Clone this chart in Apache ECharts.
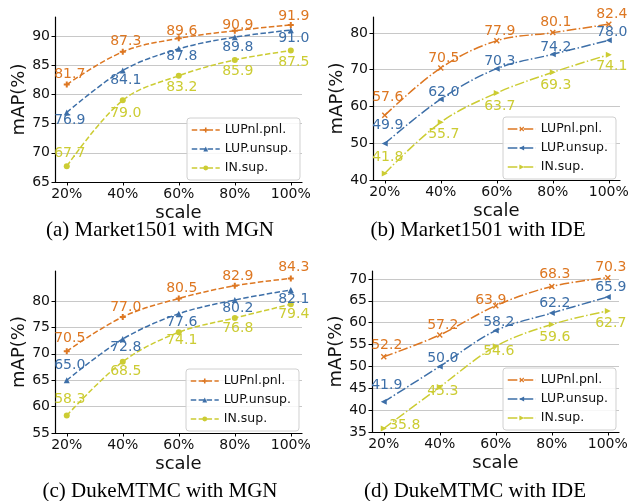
<!DOCTYPE html>
<html>
<head>
<meta charset="utf-8">
<script src="https://cdn.jsdelivr.net/npm/echarts@6/dist/echarts.min.js"></script>
<style>
  html, body { margin: 0; padding: 0; background: #fff; }
  #chart { width: 632px; height: 501px; }
</style>
</head>
<body>
<div id="chart"></div>
<script>
// Training-data scale (x) and mAP (%) for three pre-training settings
const scales = [20, 40, 60, 80, 100];
const methodNames = ['LUPnl.pnl.', 'LUP.unsup.', 'IN.sup.'];

// (a) Market1501 with MGN
const marketMgnPnl   = [81.7, 87.3, 89.6, 90.9, 91.9];
const marketMgnUnsup = [76.9, 84.1, 87.8, 89.8, 91.0];
const marketMgnSup   = [67.7, 79.0, 83.2, 85.9, 87.5];
// (b) Market1501 with IDE
const marketIdePnl   = [57.6, 70.5, 77.9, 80.1, 82.4];
const marketIdeUnsup = [49.9, 62.0, 70.3, 74.2, 78.0];
const marketIdeSup   = [41.8, 55.7, 63.7, 69.3, 74.1];
// (c) DukeMTMC with MGN
const dukeMgnPnl     = [70.5, 77.0, 80.5, 82.9, 84.3];
const dukeMgnUnsup   = [65.0, 72.8, 77.6, 80.2, 82.1];
const dukeMgnSup     = [58.3, 68.5, 74.1, 76.8, 79.4];
// (d) DukeMTMC with IDE
const dukeIdePnl     = [52.2, 57.2, 63.9, 68.3, 70.3];
const dukeIdeUnsup   = [41.9, 50.0, 58.2, 62.2, 65.9];
const dukeIdeSup     = [35.8, 45.3, 54.6, 59.6, 62.7];

// y tick values per panel
const yTicksA = [65, 70, 75, 80, 85, 90];
const yTicksB = [40, 50, 60, 70, 80];
const yTicksC = [55, 60, 65, 70, 75, 80];
const yTicksD = [35, 40, 45, 50, 55, 60, 65, 70];

const captions = [
  '(a) Market1501 with MGN',
  '(b) Market1501 with IDE',
  '(c) DukeMTMC with MGN',
  '(d) DukeMTMC with IDE'
];

const panelValues = [
  [marketMgnPnl, marketMgnUnsup, marketMgnSup],
  [marketIdePnl, marketIdeUnsup, marketIdeSup],
  [dukeMgnPnl, dukeMgnUnsup, dukeMgnSup],
  [dukeIdePnl, dukeIdeUnsup, dukeIdeSup]
];
const panelTicks = [yTicksA, yTicksB, yTicksC, yTicksD];

// ---- layout & style ----
const COLORS = ['#dd7722', '#3d6fa8', '#cccc33'];
const FONT = 'DejaVu Sans';
const panels = [
  { grid: { left: 55,  top: 17,  width: 247, height: 165 }, yMin: 65, yMax: 93.25, legend: { left: 187, top: 118 }, caption: [160, 230], kind: 'mgn' },
  { grid: { left: 373, top: 17,  width: 247, height: 163 }, yMin: 40, yMax: 84.35, legend: { left: 503, top: 117 }, caption: [478, 230], kind: 'ide' },
  { grid: { left: 55,  top: 271, width: 247, height: 162 }, yMin: 55, yMax: 85.7,  legend: { left: 186, top: 369 }, caption: [160, 491], kind: 'mgn' },
  { grid: { left: 372, top: 271, width: 247, height: 161 }, yMin: 35, yMax: 71.83, legend: { left: 503, top: 368 }, caption: [475, 491], kind: 'ide' }
];
// label placement: offset of each value label's centre from its point [dx, dy]
const labelDy = [
  [[-10, -10, -7, -5, -9], [8, 10, 8, 10, 8], [-13, 13, 12, 11, 12]],
  [[-18, -10, -9, -10, -10], [-18, -7, -7, -7, -8], [-16, 12, 13, 13, 12]],
  [[-13, -10, -10, -9, -11], [-15, 8, 9, 8, 9], [-16, 10, 8, 10, 10]],
  [[-11, -10, -5, -12, -10], [-16, -8, -8, -10, -10], [-3, 4, 5, 13, 12]]
];
const labelDx = [
  [[3, 3, 3, 3, 3], [3, 3, 3, 3, 3], [3, 3, 3, 3, 3]],
  [[3, 3, 3, 3, 3], [3, 3, 3, 3, 3], [3, 3, 3, 3, 3]],
  [[3, 3, 3, 3, 3], [3, 3, 3, 3, 3], [3, 3, 3, 3, 3]],
  [[3, 3, -5, 3, 3], [3, 3, 3, 3, 3], [21, 3, 3, 3, 3]]
];

const PLUS = 'path://M2,0H4V2H6V4H4V6H2V4H0V2H2Z';
const CROSS = 'path://M0,1L1,0L3,2L5,0L6,1L4,3L6,5L5,6L3,4L1,6L0,5L2,3Z';
const markerStyles = {
  mgn: [
    { symbol: PLUS, symbolSize: 6, rotate: 0 },
    { symbol: 'triangle', symbolSize: 6, rotate: 0 },
    { symbol: 'circle', symbolSize: 6, rotate: 0 }
  ],
  ide: [
    { symbol: CROSS, symbolSize: 6, rotate: 0 },
    { symbol: 'triangle', symbolSize: 6, rotate: 90 },
    { symbol: 'triangle', symbolSize: 6, rotate: -90 }
  ]
};
const dashes = { mgn: [5.5, 2.4], ide: [9.6, 2.4, 1.5, 2.4] };

const grids = [], xAxes = [], yAxes = [], series = [], legends = [], graphics = [];

panels.forEach((p, pi) => {
  grids.push(Object.assign({ containLabel: false }, p.grid));
  xAxes.push({
    type: 'value', gridIndex: pi, min: 15.8, max: 104,
    name: 'scale', nameLocation: 'middle', nameGap: 22,
    nameTextStyle: { fontFamily: FONT, fontSize: 18, color: '#111' },
    axisLine: { show: true, onZero: false, lineStyle: { color: '#000', width: 1.2 } },
    axisTick: { show: true, length: 3.5, customValues: scales, lineStyle: { color: '#000', width: 1 } },
    axisLabel: { customValues: scales, formatter: '{value}%', margin: 5, fontFamily: FONT, fontSize: 14, color: '#111' },
    splitLine: { show: false }
  });
  yAxes.push({
    type: 'value', gridIndex: pi, min: p.yMin, max: p.yMax,
    name: 'mAP(%)', nameLocation: 'middle', nameGap: 25, nameRotate: 90,
    nameTextStyle: { fontFamily: FONT, fontSize: 18, color: '#111' },
    axisLine: { show: true, onZero: false, lineStyle: { color: '#000', width: 1.2 } },
    axisTick: { show: true, length: 3.5, customValues: panelTicks[pi], lineStyle: { color: '#000', width: 1 } },
    axisLabel: { customValues: panelTicks[pi], margin: 5, fontFamily: FONT, fontSize: 14, color: '#111' },
    splitLine: { show: true, lineStyle: { color: '#c8c8c8', width: 1 } }
  });

  const names = [];
  panelValues[pi].forEach((vals, si) => {
    const m = markerStyles[p.kind][si];
    const name = 'p' + pi + '|' + methodNames[si];
    names.push({ name: name, lineStyle: { type: dashes[p.kind], width: 1.5, color: COLORS[si] } });
    series.push({
      type: 'line', name: name, xAxisIndex: pi, yAxisIndex: pi,
      smooth: 0.35,
      symbol: m.symbol, symbolSize: m.symbolSize, symbolRotate: m.rotate,
      color: COLORS[si],
      itemStyle: { color: COLORS[si] },
      lineStyle: { color: COLORS[si], width: 1.5, type: dashes[p.kind] },
      label: {
        show: true, position: 'inside', color: COLORS[si],
        fontFamily: FONT, fontSize: 14,
        formatter: (prm) => prm.value[1].toFixed(1)
      },
      emphasis: { disabled: true },
      data: vals.map((v, i) => ({
        value: [scales[i], v],
        label: { offset: [labelDx[pi][si][i], labelDy[pi][si][i]] }
      }))
    });
  });

  legends.push({
    data: names, orient: 'vertical', left: p.legend.left, top: p.legend.top,
    formatter: (n) => n.split('|')[1],
    backgroundColor: 'rgba(255,255,255,0.85)', borderColor: '#d0d0d0', borderWidth: 1, borderRadius: 3,
    padding: [5, 8, 5, 4], itemWidth: 28, itemHeight: 6, itemGap: 5,
    lineStyle: { type: dashes[p.kind], width: 1.5 },
    selectedMode: false,
    textStyle: { fontFamily: FONT, fontSize: 12.5, color: '#111', lineHeight: 14 }
  });

  graphics.push({
    type: 'text', x: p.caption[0], y: p.caption[1],
    style: {
      text: captions[pi], fill: '#000', align: 'center', verticalAlign: 'middle',
      font: '21px "Liberation Serif", "Times New Roman", serif'
    }
  });
});

const chart = echarts.init(document.getElementById('chart'), null, { renderer: 'canvas' });
chart.setOption({
  backgroundColor: '#fff',
  animation: false,
  grid: grids,
  xAxis: xAxes,
  yAxis: yAxes,
  legend: legends,
  series: series,
  graphic: graphics
});
</script>
</body>
</html>
